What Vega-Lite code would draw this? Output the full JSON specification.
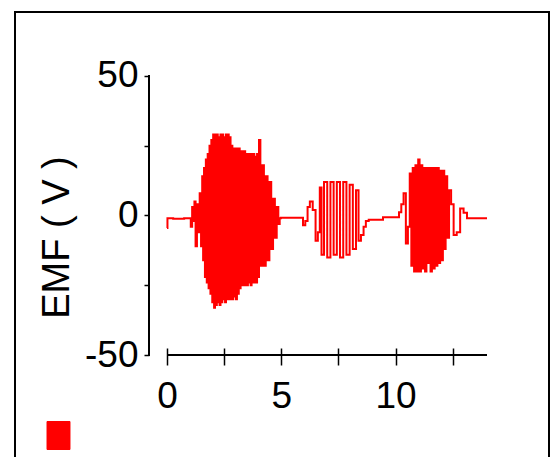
{
  "$schema": "https://vega.github.io/schema/vega-lite/v6.json",
  "autosize": {"type": "none"},
  "padding": {"left": 15, "top": 12, "right": 1, "bottom": -3},
  "width": 534,
  "height": 448,
  "background": "white",
  "config": {"view": {"stroke": "black", "strokeWidth": 2}, "axis": {"grid": false}},
  "data": {"values": [
    {"t":0,"v":-4.5},{"t":0.04,"v":-1},{"t":0.5,"v":-1.2},{"t":1.0,"v":-1},{"t":1.08,"v":-4},{"t":1.12,"v":3},{"t":1.18,"v":-2},{"t":1.22,"v":5},{"t":1.28,"v":-11},{"t":1.34,"v":4},{"t":1.40,"v":-6},{"t":1.46,"v":8},{"t":1.52,"v":-11},{"t":1.56,"v":14},{"t":1.60,"v":-16},{"t":1.64,"v":17},{"t":1.68,"v":-22},{"t":1.72,"v":20},{"t":1.76,"v":-24},{"t":1.80,"v":22},{"t":1.84,"v":-26},{"t":1.88,"v":25},{"t":1.92,"v":-28},{"t":1.96,"v":27},{"t":2.00,"v":-31},{"t":2.04,"v":29},{"t":2.08,"v":-33},{"t":2.12,"v":29},{"t":2.16,"v":-32},{"t":2.20,"v":29},{"t":2.24,"v":-31},{"t":2.28,"v":28},{"t":2.32,"v":-32},{"t":2.36,"v":29},{"t":2.40,"v":-31},{"t":2.44,"v":29},{"t":2.48,"v":-30},{"t":2.52,"v":28},{"t":2.56,"v":-31},{"t":2.60,"v":29},{"t":2.64,"v":-30},{"t":2.68,"v":29},{"t":2.72,"v":-30},{"t":2.76,"v":28},{"t":2.80,"v":-30},{"t":2.84,"v":25},{"t":2.88,"v":-30},{"t":2.92,"v":24},{"t":2.96,"v":-29},{"t":3.00,"v":24},{"t":3.04,"v":-30},{"t":3.08,"v":24},{"t":3.12,"v":-28},{"t":3.16,"v":24},{"t":3.20,"v":-26},{"t":3.24,"v":23},{"t":3.28,"v":-25},{"t":3.32,"v":23},{"t":3.36,"v":-25},{"t":3.40,"v":23},{"t":3.44,"v":-25},{"t":3.48,"v":22},{"t":3.52,"v":-25},{"t":3.56,"v":22},{"t":3.60,"v":-24},{"t":3.64,"v":22},{"t":3.68,"v":-25},{"t":3.72,"v":22},{"t":3.76,"v":-24},{"t":3.80,"v":22},{"t":3.84,"v":-24},{"t":3.88,"v":21},{"t":3.92,"v":-24},{"t":3.96,"v":22},{"t":4.00,"v":-22},{"t":4.05,"v":27},{"t":4.12,"v":-18},{"t":4.20,"v":18},{"t":4.28,"v":-18},{"t":4.36,"v":14},{"t":4.44,"v":-16},{"t":4.52,"v":12},{"t":4.60,"v":-12},{"t":4.68,"v":6},{"t":4.76,"v":-8},{"t":4.84,"v":3},{"t":4.90,"v":-3},{"t":4.96,"v":-1},{"t":5.0,"v":-0.8},
    {"t":5.9,"v":-0.8},{"t":6.00,"v":-3.5},{"t":6.10,"v":-2},{"t":6.20,"v":3},{"t":6.30,"v":5},{"t":6.45,"v":2},{"t":6.55,"v":-9},{"t":6.65,"v":-6},{"t":6.72,"v":10},{"t":6.80,"v":-14},{"t":6.94,"v":12},{"t":7.08,"v":-15},{"t":7.22,"v":12},{"t":7.36,"v":-14},{"t":7.50,"v":12},{"t":7.64,"v":-15},{"t":7.78,"v":12},{"t":7.92,"v":-14},{"t":8.06,"v":11},{"t":8.20,"v":-12},{"t":8.34,"v":9},{"t":8.42,"v":-9},{"t":8.55,"v":-7},{"t":8.65,"v":-4},{"t":8.75,"v":-2},{"t":8.9,"v":-1.5},{"t":9.3,"v":-1.5},{"t":9.6,"v":-0.6},
    {"t":10.1,"v":-0.6},{"t":10.2,"v":1.2},{"t":10.3,"v":4},{"t":10.4,"v":8},{"t":10.5,"v":-10},{"t":10.58,"v":-4},{"t":10.66,"v":15},{"t":10.72,"v":-18},{"t":10.78,"v":17},{"t":10.84,"v":-20},{"t":10.90,"v":18},{"t":10.96,"v":-20},{"t":11.02,"v":20},{"t":11.08,"v":-20},{"t":11.14,"v":18},{"t":11.20,"v":-19},{"t":11.26,"v":17},{"t":11.32,"v":-20},{"t":11.38,"v":17},{"t":11.44,"v":-17},{"t":11.50,"v":17},{"t":11.56,"v":-20},{"t":11.62,"v":17},{"t":11.68,"v":-19},{"t":11.74,"v":17},{"t":11.80,"v":-18},{"t":11.86,"v":17},{"t":11.92,"v":-17},{"t":11.98,"v":16},{"t":12.04,"v":-16},{"t":12.10,"v":16},{"t":12.16,"v":-12},{"t":12.22,"v":14},{"t":12.30,"v":-8},{"t":12.38,"v":9},{"t":12.48,"v":4},{"t":12.60,"v":-7},{"t":12.75,"v":-6},{"t":12.90,"v":2.5},{"t":13.05,"v":1},{"t":13.2,"v":-1},{"t":14.0,"v":-1}
  ]},
  "layer": [
    {
      "mark": {"type": "line", "interpolate": "step", "strokeWidth": 2},
      "encoding": {
        "x": {
          "field": "t", "type": "quantitative",
          "scale": {"domain": [-6.65, 16.7125], "nice": false, "zero": false},
          "axis": {
            "orient": "bottom", "offset": -112, "title": null, "domain": false,
            "values": [0, 2.5, 5, 7.5, 10, 12.5],
            "labelExpr": "datum.value % 5 === 0 ? '' + datum.value : ''",
            "tickSize": 17, "tickWidth": 1.5, "tickColor": "black",
            "labelFont": "Liberation Sans", "labelFontSize": 37,
            "labelColor": "black", "labelPadding": 13
          }
        },
        "y": {
          "field": "v", "type": "quantitative",
          "scale": {"domain": [-87.48, 72.81], "nice": false, "zero": false},
          "axis": {
            "orient": "left", "offset": -134, "domain": false,
            "values": [-50, -25, 0, 25, 50],
            "labelExpr": "datum.value % 50 === 0 ? '' + datum.value : ''",
            "tickSize": 5, "tickWidth": 1.5, "tickColor": "black",
            "labelFont": "Liberation Sans", "labelFontSize": 37,
            "labelColor": "black", "labelPadding": 6,
            "title": "EMF ( V )", "titleFont": "Liberation Sans", "titleFontSize": 38,
            "titleFontWeight": "normal", "titleColor": "black", "titleX": -73, "titleY": 225
          }
        },
        "color": {
          "datum": "EMF", "type": "nominal",
          "scale": {"range": ["#ff0000"]},
          "legend": {
            "orient": "none", "legendX": 29, "legendY": 409, "title": null,
            "labelExpr": "''", "padding": 0, "labelOffset": 0,
            "symbolType": "M-0.82,-1H0.82V1H-0.82Z", "symbolSize": 784,
            "encode": {"symbols": {"update": {"fill": {"value": "#ff0000"}, "stroke": {"value": "#999999"}, "strokeWidth": {"value": 1}, "opacity": {"value": 1}}}}
          }
        }
      }
    },
    {
      "mark": {"type": "rule", "color": "black", "strokeWidth": 1.5},
      "encoding": {"x": {"datum": 0}, "x2": {"datum": 14}, "y": {"datum": -50}}
    },
    {
      "mark": {"type": "rule", "color": "black", "strokeWidth": 1.5},
      "encoding": {"x": {"datum": -0.7875}, "y": {"datum": -50}, "y2": {"datum": 50}}
    }
  ]
}
